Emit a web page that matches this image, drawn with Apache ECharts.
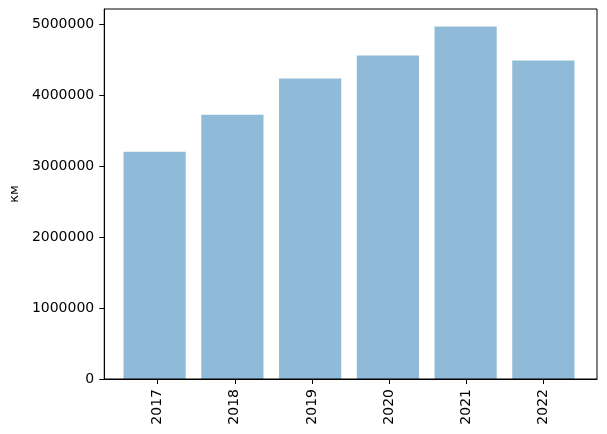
<!DOCTYPE html>
<html>
<head>
<meta charset="utf-8">
<script src="https://cdn.jsdelivr.net/npm/echarts@6/dist/echarts.min.js"></script>
<style>
html,body{margin:0;padding:0;background:#fff;}
#chart{width:607px;height:434px;}
</style>
</head>
<body>
<div id="chart"></div>
<script>
const categories = ['2017', '2018', '2019', '2020', '2021', '2022'];
const values = [3206000, 3728000, 4236000, 4560000, 4969000, 4490000];
const yTicks = [0, 1000000, 2000000, 3000000, 4000000, 5000000];
const yAxisName = 'км';

const positions = categories.map((c, i) => i);
const yMax = Math.max(...values) * 1.05;
const font = 'DejaVu Sans';

// layout of plot frame (pixels)
const W = 607, H = 434;
const L = 101, R = 10, T = 9, B = 55;
const pad = 0.69; // x margin in category units (matplotlib style)
const plotW = W - L - R;
const unit = plotW / (categories.length - 1 + 2 * pad);
const inset = (pad - 0.5) * unit;

const chart = echarts.init(document.getElementById('chart'), null, {renderer: 'canvas'});
chart.setOption({
  animation: false,
  backgroundColor: '#ffffff',
  grid: [
    {left: L, right: R, top: T, bottom: B, show: true, borderColor: '#000', borderWidth: 1, backgroundColor: 'transparent', z: 5},
    {left: L + inset, right: R + inset, top: T, bottom: B, show: false}
  ],
  xAxis: [{
    type: 'value',
    gridIndex: 0,
    min: -pad,
    max: categories.length - 1 + pad,
    axisLine: {show: true, onZero: false, lineStyle: {color: '#000', width: 1}},
    axisTick: {show: true, length: 5, inside: false, customValues: positions, lineStyle: {color: '#000', width: 1}},
    splitLine: {show: false},
    axisLabel: {
      show: true,
      customValues: positions,
      rotate: 90,
      margin: 10,
      color: '#000',
      fontFamily: font,
      fontSize: 14,
      formatter: v => categories[Math.round(v)]
    }
  }, {
    type: 'category',
    gridIndex: 1,
    data: categories,
    boundaryGap: true,
    show: false
  }],
  yAxis: [{
    type: 'value',
    gridIndex: 0,
    min: 0,
    max: yMax,
    name: yAxisName,
    nameLocation: 'middle',
    nameRotate: 90,
    nameGap: 80,
    nameTextStyle: {color: '#000', fontFamily: font, fontSize: 13},
    axisLine: {show: true, onZero: false, lineStyle: {color: '#000', width: 1}},
    axisTick: {show: true, length: 5, inside: false, customValues: yTicks, lineStyle: {color: '#000', width: 1}},
    splitLine: {show: false},
    axisLabel: {
      show: true,
      customValues: yTicks,
      margin: 10,
      color: '#000',
      fontFamily: font,
      fontSize: 14,
      formatter: v => String(v)
    }
  }, {
    type: 'value',
    gridIndex: 1,
    min: 0,
    max: yMax,
    show: false,
    splitLine: {show: false}
  }],
  series: [{
    type: 'bar',
    xAxisIndex: 1,
    yAxisIndex: 1,
    data: values,
    barWidth: '80%',
    itemStyle: {color: 'rgba(31,119,180,0.5)'}
  }]
});
</script>
</body>
</html>
